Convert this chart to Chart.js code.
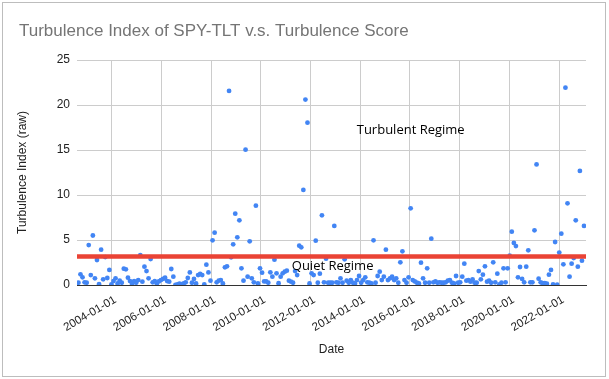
<!DOCTYPE html>
<html>
<head>
<meta charset="utf-8">
<script src="https://cdn.jsdelivr.net/npm/chart.js@4.4.1/dist/chart.umd.min.js"></script>
<style>
  html, body { margin: 0; padding: 0; background: #ffffff; }
  #wrap { position: relative; width: 609px; height: 379px; overflow: hidden; }
  #c { position: absolute; left: 0; top: 0; }
  #frame { position: absolute; left: 2px; top: 2px; width: 602px; height: 373px; border: 1px solid #bdbdbd; pointer-events: none; }
</style>
</head>
<body>
<div id="wrap">
  <canvas id="c" width="609" height="379"></canvas>
  <div id="frame"></div>
</div>
<script>
// ---- Data ----
const chartTitle = 'Turbulence Index of SPY-TLT v.s. Turbulence Score';
const firstDate = '2002-09-01';   // first observation
const lastDate  = '2023-01-01';   // last observation
const turbulenceValues = [
  0.26, 1.19, 0.85, 0.3, 0.26, 4.44, 1.1, 5.5, 0.74, 2.78,
  0.1, 3.93, 0.63, 3.1, 0.78, 1.67, 0.07, 0.44, 0.74, 0.18,
  0.48, 0.26, 1.81, 1.74, 0.81, 0.44, 0.15, 0.44, 0.26, 0.55,
  3.33, 0.37, 2.04, 1.55, 0.74, 2.89, 0.3, 0.44, 0.18, 0.4,
  0.55, 0.67, 0.81, 0.44, 0.37, 1.78, 0.93, 0.0, 0.07, 0.15,
  0.07, 0.18, 0.3, 0.78, 1.4, 0.26, 0.67, 0.18, 1.1, 1.22,
  1.1, 0.07, 2.26, 1.4, 0.48, 4.96, 5.81, 0.3, 0.48, 0.55,
  0.18, 1.96, 2.07, 21.56, 3.07, 4.52, 7.93, 5.3, 7.19, 1.85,
  0.48, 15.04, 0.93, 4.85, 0.74, 0.3, 8.81, 0.18, 1.85, 1.37,
  0.4, 0.4, 0.26, 1.41, 0.93, 2.81, 1.3, 0.2, 0.93, 1.3,
  1.48, 1.59, 0.48, 0.37, 0.26, 1.55, 1.1, 4.37, 4.19, 10.56,
  20.6, 18.04, 0.18, 1.3, 1.1, 4.93, 0.26, 1.26, 7.74, 0.3,
  2.93, 0.26, 0.26, 0.26, 6.56, 0.3, 0.26, 0.74, 0.26, 2.85,
  0.48, 0.26, 0.55, 0.26, 0.18, 0.55, 1.0, 0.26, 0.55, 0.85,
  0.3, 0.26, 0.18, 4.96, 0.26, 1.0, 1.48, 0.55, 0.93, 3.93,
  0.55, 0.74, 0.93, 0.55, 0.74, 0.26, 2.52, 3.74, 0.55, 0.26,
  0.85, 8.52, 0.55, 0.4, 0.26, 0.18, 2.48, 0.74, 0.26, 1.85,
  0.26, 5.15, 0.3, 0.4, 0.26, 0.3, 0.26, 0.26, 0.3, 0.48,
  0.55, 0.26, 0.18, 1.0, 0.26, 0.3, 0.93, 2.37, 0.48, 0.55,
  0.37, 0.63, 0.26, 0.26, 1.55, 0.63, 1.15, 2.07, 0.37, 0.48,
  0.26, 2.52, 0.3, 1.26, 0.07, 0.26, 1.85, 0.3, 1.85, 3.26,
  5.93, 4.67, 4.33, 0.85, 2.0, 0.67, 0.3, 2.04, 3.85, 0.3,
  0.3, 6.07, 13.4, 0.7, 0.3, 0.2, 0.2, 0.15, 1.15, 1.67,
  0.07, 4.78, 0.03, 3.6, 5.7, 2.3, 21.93, 9.07, 0.93, 2.37,
  3.0, 7.19, 2.04, 12.67, 2.7, 6.56
];
const thresholdValue = 3.17;               // turbulence score threshold
const xAxisStart = 2002.61, xAxisEnd = 2023.08;
const xTickYears = [2004, 2006, 2008, 2010, 2012, 2014, 2016, 2018, 2020, 2022];
const yTicks = [0, 5, 10, 15, 20, 25];
// annotation text, anchored at its baseline centre (date as decimal year, index value)
const annotations = [
  { text: 'Turbulent Regime', year: 2016.03, value: 16.78 },
  { text: 'Quiet Regime', year: 2012.89, value: 1.67 }
];

// ---- helpers ----
function toYear(s) {
  const [y, m, d] = s.split('-').map(Number);
  return y + (m - 1) / 12 + (d - 1) / 365;
}
const t0 = toYear(firstDate), t1 = toYear(lastDate);
const n = turbulenceValues.length;
const obsDates = turbulenceValues.map((_, i) => t0 + (t1 - t0) * i / (n - 1));
const turbulencePoints = turbulenceValues.map((v, i) => ({ x: obsDates[i], y: v }));
const thresholdPoints = [{ x: xAxisStart, y: thresholdValue }, { x: xAxisEnd, y: thresholdValue }];

const FONT = "'Liberation Sans', Arial, sans-serif";

const decorPlugin = {
  id: 'decor',
  afterDatasetsDraw(chart) {
    const ctx = chart.ctx;
    const xs = chart.scales.x, ys = chart.scales.y;
    ctx.save();
    ctx.fillStyle = '#000000';
    ctx.font = "13px 'Open Sans', 'Noto Sans', sans-serif";
    ctx.textAlign = 'center';
    ctx.textBaseline = 'alphabetic';
    annotations.forEach(a => {
      ctx.fillText(a.text, xs.getPixelForValue(a.year), ys.getPixelForValue(a.value));
    });
    ctx.restore();
  },
  afterDraw(chart) {
    const ctx = chart.ctx;
    ctx.save();
    ctx.fillStyle = '#757575';
    ctx.font = '17px ' + FONT;
    ctx.textAlign = 'left';
    ctx.textBaseline = 'middle';
    ctx.fillText(chartTitle, 19, 31);
    ctx.restore();
  }
};

new Chart(document.getElementById('c'), {
  type: 'scatter',
  data: {
    datasets: [
      {
        label: 'Turbulence Score',
        type: 'line',
        data: thresholdPoints,
        borderColor: '#ea4335',
        borderWidth: 4.5,
        pointRadius: 0,
        fill: false,
        tension: 0
      },
      {
        label: 'Turbulence Index',
        data: turbulencePoints,
        backgroundColor: '#4285f4',
        borderColor: '#4285f4',
        borderWidth: 0,
        pointRadius: 2.4,
        pointHoverRadius: 2.4
      }
    ]
  },
  options: {
    responsive: false,
    animation: false,
    events: [],
    layout: { padding: { top: 60, left: 15, right: 23, bottom: 22 } },
    plugins: {
      legend: { display: false },
      title: { display: false },
      tooltip: { enabled: false }
    },
    scales: {
      x: {
        type: 'linear',
        min: xAxisStart,
        max: xAxisEnd,
        afterBuildTicks(scale) { scale.ticks = xTickYears.map(v => ({ value: v })); },
        afterFit(scale) { scale.height = 72; },
        grid: { color: '#cccccc', drawTicks: false, lineWidth: 1 },
        border: { display: true, color: '#333333', width: 1 },
        ticks: {
          autoSkip: false,
          maxRotation: 30,
          minRotation: 30,
          padding: 8,
          labelOffset: 4,
          color: '#222222',
          font: { family: FONT, size: 11.5 },
          callback: v => v + '-01-01'
        },
        title: {
          display: true,
          text: 'Date',
          color: '#222222',
          font: { family: FONT, size: 12 },
          padding: { top: 4, bottom: 0 }
        }
      },
      y: {
        min: 0,
        max: 25,
        afterBuildTicks(scale) { scale.ticks = yTicks.map(v => ({ value: v })); },
        afterFit(scale) { scale.width = 62; },
        grid: { color: '#cccccc', drawTicks: false, lineWidth: 1 },
        border: { display: false },
        ticks: {
          padding: 7,
          color: '#222222',
          font: { family: FONT, size: 12 }
        },
        title: {
          display: true,
          text: 'Turbulence Index (raw)',
          color: '#222222',
          font: { family: FONT, size: 12 },
          padding: { top: 0, bottom: 0 }
        }
      }
    }
  },
  plugins: [decorPlugin]
});
</script>
</body>
</html>
